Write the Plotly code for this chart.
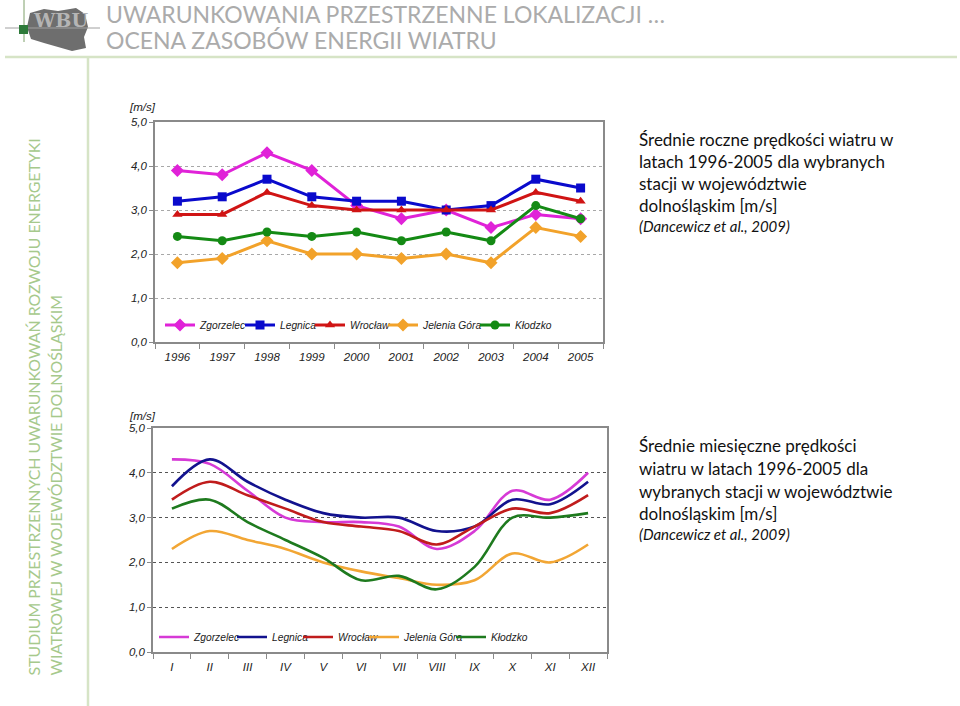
import plotly.graph_objects as go

W, H = 960, 706

# ---------------- data ----------------
years = ["1996", "1997", "1998", "1999", "2000", "2001", "2002", "2003", "2004", "2005"]
months = ["I", "II", "III", "IV", "V", "VI", "VII", "VIII", "IX", "X", "XI", "XII"]
stations = ["Zgorzelec", "Legnica", "Wrocław", "Jelenia Góra", "Kłodzko"]

annual_zgorzelec = [3.9, 3.8, 4.3, 3.9, 3.1, 2.8, 3.0, 2.6, 2.9, 2.8]
annual_legnica = [3.2, 3.3, 3.7, 3.3, 3.2, 3.2, 3.0, 3.1, 3.7, 3.5]
annual_wroclaw = [2.9, 2.9, 3.4, 3.1, 3.0, 3.0, 3.0, 3.0, 3.4, 3.2]
annual_jelenia = [1.8, 1.9, 2.3, 2.0, 2.0, 1.9, 2.0, 1.8, 2.6, 2.4]
annual_klodzko = [2.4, 2.3, 2.5, 2.4, 2.5, 2.3, 2.5, 2.3, 3.1, 2.8]

monthly_zgorzelec = [4.3, 4.2, 3.6, 3.0, 2.9, 2.9, 2.8, 2.3, 2.7, 3.6, 3.4, 4.0]
monthly_legnica = [3.7, 4.3, 3.8, 3.4, 3.1, 3.0, 3.0, 2.7, 2.8, 3.4, 3.3, 3.8]
monthly_wroclaw = [3.4, 3.8, 3.5, 3.2, 2.9, 2.8, 2.7, 2.4, 2.8, 3.2, 3.1, 3.5]
monthly_jelenia = [2.3, 2.7, 2.5, 2.3, 2.0, 1.8, 1.65, 1.5, 1.6, 2.2, 2.0, 2.4]
monthly_klodzko = [3.2, 3.4, 2.9, 2.5, 2.1, 1.6, 1.7, 1.4, 1.9, 3.0, 3.0, 3.1]

y_tickvals = [0, 1, 2, 3, 4, 5]
y_ticktext = ["0,0", "1,0", "2,0", "3,0", "4,0", "5,0"]

# ---------------- styles ----------------
top_colors = ["#E022D8", "#0A0ACC", "#D01414", "#F2A22A", "#148A14"]
top_symbols = ["diamond", "square", "triangle-up", "diamond", "circle"]
bot_colors = ["#D63AD6", "#12128E", "#C01C1C", "#F2A634", "#1E7A1E"]
# legend entry centres (px) for each station
top_leg_x = [180, 260, 330, 403, 495]
bot_leg_x = [174, 252, 318, 384, 471]

annual = [annual_zgorzelec, annual_legnica, annual_wroclaw, annual_jelenia, annual_klodzko]
monthly = [monthly_zgorzelec, monthly_legnica, monthly_wroclaw, monthly_jelenia, monthly_klodzko]


def px(x):
    return x / W


def py(y):
    return 1 - y / H


fig = go.Figure()
legend_font = dict(family="Arial, Liberation Sans", size=10.25, color="#222222", style="italic")
legends = {}

for i, (name, vals, col, sym) in enumerate(zip(stations, annual, top_colors, top_symbols)):
    lname = "legend" if i == 0 else f"legend{i + 1}"
    fig.add_trace(go.Scatter(
        x=years, y=vals, name=name, mode="lines+markers",
        line=dict(color=col, width=3),
        marker=dict(symbol=sym, size=9 if sym != "diamond" else 10, color=col),
        xaxis="x", yaxis="y", legend=lname))
    legends[lname] = dict(x=px(top_leg_x[i] - 20), y=py(325), xanchor="left", yanchor="middle",
                          font=legend_font, bgcolor="rgba(0,0,0,0)", itemwidth=30,
                          itemclick=False, itemdoubleclick=False)

for i, (name, vals, col) in enumerate(zip(stations, monthly, bot_colors)):
    lname = f"legend{i + 6}"
    fig.add_trace(go.Scatter(
        x=months, y=vals, name=name, mode="lines",
        line=dict(color=col, width=2.6, shape="spline", smoothing=1.0),
        xaxis="x2", yaxis="y2", legend=lname))
    legends[lname] = dict(x=px(bot_leg_x[i] - 20), y=py(637), xanchor="left", yanchor="middle",
                          font=legend_font, bgcolor="rgba(0,0,0,0)", itemwidth=30,
                          itemclick=False, itemdoubleclick=False)

tickfont = dict(family="Arial, Liberation Sans", size=11.5, color="#222222", style="italic")
axis_line = "#8a8a8a"

common_x = dict(type="category", showline=True, linecolor=axis_line, linewidth=1.5, mirror=True,
                ticks="outside", tickson="boundaries", ticklen=5, tickcolor=axis_line,
                ticklabelstandoff=3, showgrid=False, tickfont=tickfont, fixedrange=True,
                automargin=False)
common_y = dict(range=[0, 5], tickvals=y_tickvals, ticktext=y_ticktext, showline=True,
                linecolor=axis_line, linewidth=1.5, mirror=True, ticks="outside", ticklen=4,
                tickcolor=axis_line, showgrid=True, griddash="dot", gridwidth=1,
                zeroline=False, tickfont=tickfont, fixedrange=True, automargin=False)

fig.update_layout(
    width=W, height=H,
    margin=dict(l=0, r=0, t=0, b=0, pad=0, autoexpand=False),
    paper_bgcolor="white", plot_bgcolor="white",
    showlegend=True,
    xaxis=dict(domain=[px(155), px(603)], anchor="y", range=[-0.5, len(years) - 0.5], **common_x),
    yaxis=dict(domain=[py(342), py(122)], anchor="x", gridcolor="#a8a8a8", **common_y),
    xaxis2=dict(domain=[px(153), px(607)], anchor="y2", range=[-0.5, len(months) - 0.5], **common_x),
    yaxis2=dict(domain=[py(652), py(428)], anchor="x2", gridcolor="#555555", **common_y),
    **legends,
)

ann = []
# unit labels
for yy in (107, 416):
    ann.append(dict(text="[m/s]", x=px(127), y=py(yy), xref="paper", yref="paper",
                    xanchor="left", yanchor="middle", showarrow=False,
                    font=dict(family="Arial, Liberation Sans", size=11.5, color="#222222", style="italic")))

# right-hand descriptions
desc_font = dict(family="Lato, Open Sans", size=17, color="#111111")
cite_font = dict(family="Lato, Open Sans", size=15, color="#111111", style="italic")
top_lines = ["Średnie roczne prędkości wiatru w", "latach 1996-2005 dla wybranych",
             "stacji w województwie", "dolnośląskim [m/s]"]
top_ys = [140, 162, 184, 206]
for t, yy in zip(top_lines, top_ys):
    ann.append(dict(text=t, x=px(637), y=py(yy), xref="paper", yref="paper", xanchor="left",
                    yanchor="middle", showarrow=False, font=desc_font))
ann.append(dict(text="(Dancewicz et al., 2009)", x=px(637), y=py(226), xref="paper", yref="paper",
                xanchor="left", yanchor="middle", showarrow=False, font=cite_font))

bot_lines = ["Średnie miesięczne prędkości", "wiatru w latach 1996-2005 dla",
             "wybranych stacji w województwie", "dolnośląskim [m/s]"]
bot_ys = [445, 468, 491, 513]
for t, yy in zip(bot_lines, bot_ys):
    ann.append(dict(text=t, x=px(637), y=py(yy), xref="paper", yref="paper", xanchor="left",
                    yanchor="middle", showarrow=False, font=desc_font))
ann.append(dict(text="(Dancewicz et al., 2009)", x=px(637), y=py(534), xref="paper", yref="paper",
                xanchor="left", yanchor="middle", showarrow=False, font=cite_font))

# header
head_font = dict(family="Lato, Open Sans", size=23, color="#ABABAB")
ann.append(dict(text="UWARUNKOWANIA PRZESTRZENNE LOKALIZACJI …", x=px(104), y=py(14), xref="paper",
                yref="paper", xanchor="left", yanchor="middle", showarrow=False, font=head_font))
ann.append(dict(text="OCENA ZASOBÓW ENERGII WIATRU", x=px(104), y=py(40), xref="paper",
                yref="paper", xanchor="left", yanchor="middle", showarrow=False, font=head_font))

# logo text
ann.append(dict(text="<b>WBU</b>", x=px(60), y=py(20), xref="paper", yref="paper",
                xanchor="center", yanchor="middle", showarrow=False,
                font=dict(family="DejaVu Serif", size=19, color="#B5B5B5")))

# vertical side text
ann.append(dict(text="STUDIUM PRZESTRZENNYCH UWARUNKOWAŃ ROZWOJU ENERGETYKI", textangle=-90,
                x=px(33), y=py(678), xref="paper", yref="paper", xanchor="center",
                yanchor="bottom", showarrow=False,
                font=dict(family="Lato, Open Sans", size=15.9, color="#A6C98C")))
ann.append(dict(text="WIATROWEJ W WOJEWÓDZTWIE DOLNOŚLĄSKIM", textangle=-90,
                x=px(55), y=py(678), xref="paper", yref="paper", xanchor="center",
                yanchor="bottom", showarrow=False,
                font=dict(family="Lato, Open Sans", size=15.9, color="#A6C98C")))

fig.update_layout(annotations=ann)

shapes = []
# separator lines
shapes.append(dict(type="line", xref="paper", yref="paper", x0=px(5), x1=px(957), y0=py(57), y1=py(57),
                   line=dict(color="#D6E4C6", width=2.5)))
shapes.append(dict(type="line", xref="paper", yref="paper", x0=px(88), x1=px(88), y0=py(57), y1=py(706),
                   line=dict(color="#D6E4C6", width=2.5)))
# logo: map silhouette
poland = [(30, 13), (44, 9), (58, 11), (76, 8), (85, 14), (88, 27), (84, 37), (86, 48),
          (72, 51), (58, 47), (44, 43), (31, 39), (27, 27)]
path = "M " + " L ".join(f"{px(a):.5f},{py(b):.5f}" for a, b in poland) + " Z"
shapes.append(dict(type="path", xref="paper", yref="paper", path=path,
                   fillcolor="#6E6E6E", line=dict(width=0), layer="below"))
shapes.append(dict(type="line", xref="paper", yref="paper", x0=px(5), x1=px(100), y0=py(28), y1=py(28),
                   line=dict(color="#A0A0A0", width=1)))
shapes.append(dict(type="line", xref="paper", yref="paper", x0=px(24), x1=px(24), y0=py(0), y1=py(42),
                   line=dict(color="#7FA06A", width=1)))
shapes.append(dict(type="rect", xref="paper", yref="paper", x0=px(19), x1=px(28), y0=py(34), y1=py(25),
                   fillcolor="#2E7A3A", line=dict(width=0)))
fig.update_layout(shapes=shapes)

post = ("document.documentElement.style.margin='0px';"
        "document.documentElement.style.overflow='hidden';"
        "document.body.style.margin='0px';"
        "document.body.style.padding='0px';"
        "document.body.style.overflow='hidden';")
fig.write_html("out.html", post_script=post, config={"displayModeBar": False})
